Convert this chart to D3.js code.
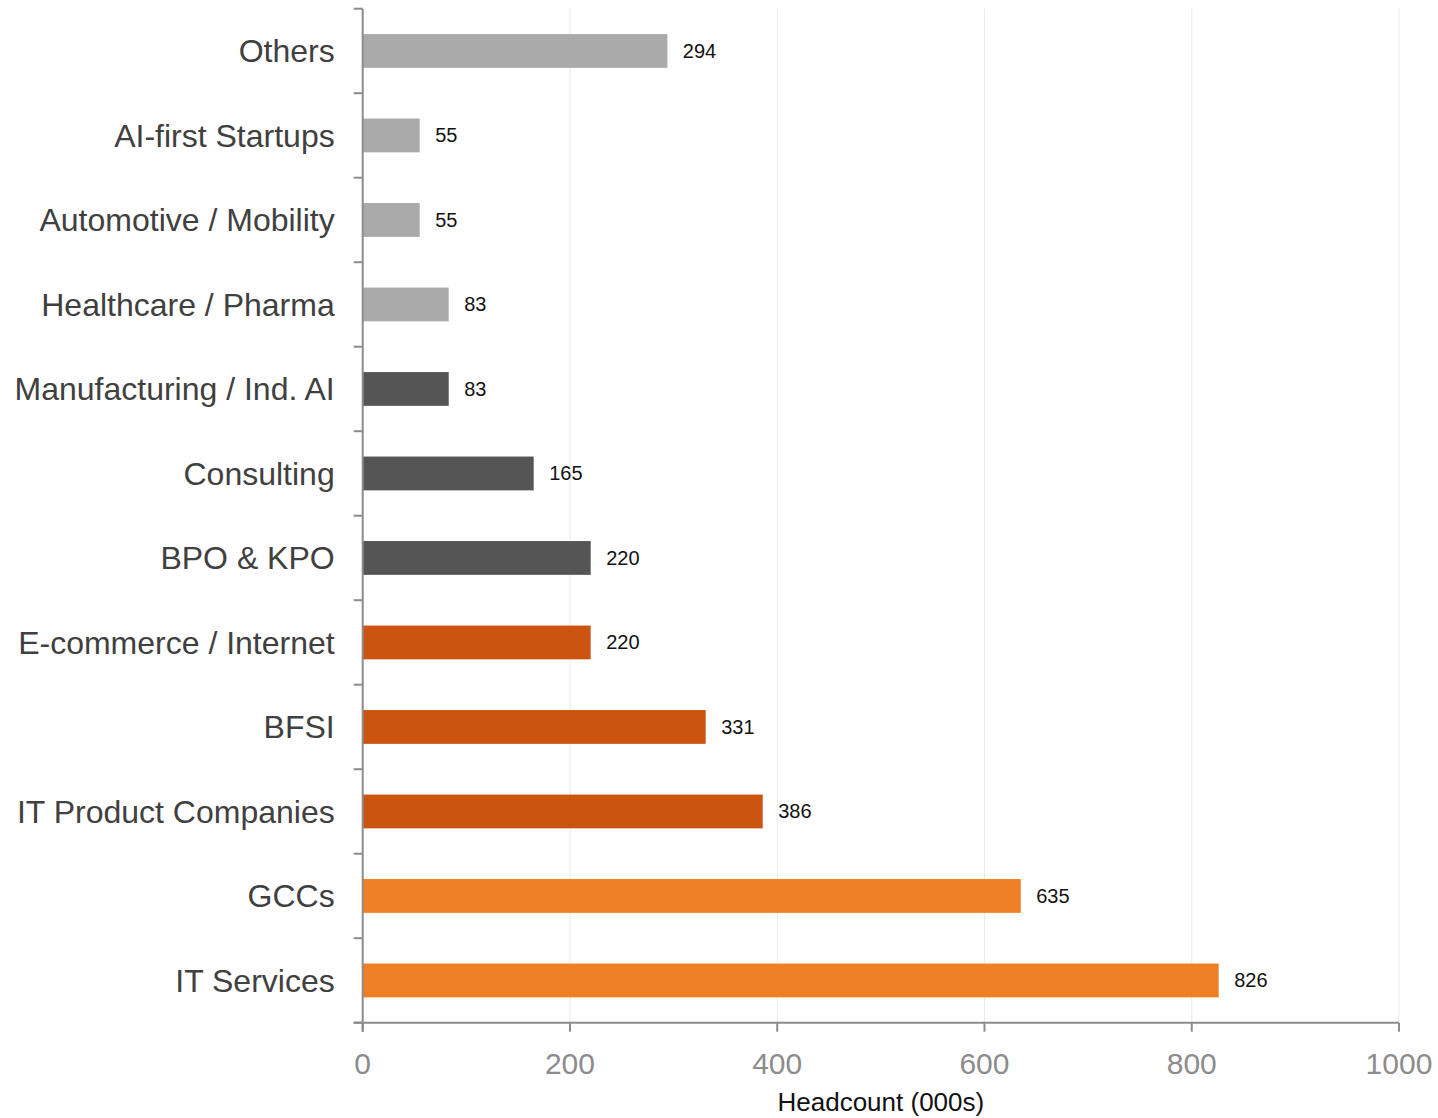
<!DOCTYPE html>
<html>
<head>
<meta charset="utf-8">
<script src="https://cdn.jsdelivr.net/npm/d3@7"></script>
<style>
  html, body { margin: 0; padding: 0; background: #fff; }
  svg { display: block; font-family: "Liberation Sans", Arial, sans-serif; }
</style>
</head>
<body>
<svg id="chart" width="1438" height="1118"></svg>
<script>
// Sectors, top to bottom
const categories = [
  "Others", "AI-first Startups", "Automotive / Mobility", "Healthcare / Pharma",
  "Manufacturing / Ind. AI", "Consulting", "BPO & KPO", "E-commerce / Internet",
  "BFSI", "IT Product Companies", "GCCs", "IT Services"
];
// Headcount in thousands
const headcount = [294, 55, 55, 83, 83, 165, 220, 220, 331, 386, 635, 826];
// Colour group per sector
const groups = [
  "other", "other", "other", "other",
  "mid", "mid", "mid",
  "core", "core", "core",
  "top", "top"
];
const groupColors = { top: "#f07e24", core: "#cb5410", mid: "#555555", other: "#aaaaaa" };
const xTicks = [0, 200, 400, 600, 800, 1000];
const xTitle = "Headcount (000s)";

const svg = d3.select("#chart");
const margin = { top: 8, left: 362.7, right: 39, bottom: 96 };
const W = 1438, H = 1118;
const plotW = W - margin.left - margin.right;
const plotH = H - margin.top - margin.bottom;

const x = d3.scaleLinear().domain([0, 1000]).range([0, plotW]);
const y = d3.scaleBand().domain(categories).range([0, plotH]).paddingInner(0.6).paddingOuter(0.3);
const band = plotH / categories.length;

const g = svg.append("g").attr("transform", `translate(${margin.left},${margin.top + 0.7})`);

// vertical gridlines
g.append("g").selectAll("line").data(xTicks.filter(d => d > 0)).join("line")
  .attr("x1", d => x(d)).attr("x2", d => x(d))
  .attr("y1", 0).attr("y2", plotH)
  .attr("stroke", "#ebebeb").attr("stroke-width", 1);

// bars
g.append("g").selectAll("rect").data(categories).join("rect")
  .attr("x", 0)
  .attr("y", d => y(d))
  .attr("height", y.bandwidth())
  .attr("width", (d, i) => x(headcount[i]))
  .attr("fill", (d, i) => groupColors[groups[i]]);

// value labels
g.append("g").selectAll("text").data(categories).join("text")
  .attr("x", (d, i) => x(headcount[i]) + 15.5)
  .attr("y", d => y(d) + y.bandwidth() / 2)
  .attr("dy", "0.35em")
  .attr("font-size", 20)
  .attr("fill", "#111")
  .text((d, i) => headcount[i]);

// category axis: ticks at band boundaries
const yAxis = g.append("g");
const boundaries = d3.range(categories.length + 1).map(i => i * band);
yAxis.selectAll("line.tick").data(boundaries).join("line")
  .attr("class", "tick")
  .attr("x1", -9).attr("x2", 0)
  .attr("y1", d => d).attr("y2", d => d)
  .attr("stroke", "#8c8c8c").attr("stroke-width", 2);
yAxis.append("line")
  .attr("x1", 0).attr("x2", 0).attr("y1", 0).attr("y2", plotH + 9)
  .attr("stroke", "#8c8c8c").attr("stroke-width", 2);
yAxis.selectAll("text").data(categories).join("text")
  .attr("x", -28)
  .attr("y", d => y(d) + y.bandwidth() / 2)
  .attr("dy", "0.35em")
  .attr("text-anchor", "end")
  .attr("font-size", 32)
  .attr("fill", "#404040")
  .text(d => d);

// value axis
const xAxis = g.append("g").attr("transform", `translate(0,${plotH})`);
xAxis.append("line")
  .attr("x1", -9).attr("x2", x(1000)).attr("y1", 0).attr("y2", 0)
  .attr("stroke", "#8c8c8c").attr("stroke-width", 2);
xAxis.selectAll("line.tick").data(xTicks).join("line")
  .attr("class", "tick")
  .attr("x1", d => x(d)).attr("x2", d => x(d))
  .attr("y1", 0).attr("y2", 9)
  .attr("stroke", "#8c8c8c").attr("stroke-width", 2);
xAxis.selectAll("text").data(xTicks).join("text")
  .attr("x", d => x(d))
  .attr("y", 51)
  .attr("text-anchor", "middle")
  .attr("font-size", 30)
  .attr("fill", "#8c8c8c")
  .text(d => d);

// axis title
g.append("text")
  .attr("x", plotW / 2)
  .attr("y", plotH + 88)
  .attr("text-anchor", "middle")
  .attr("font-size", 26)
  .attr("fill", "#111")
  .text(xTitle);
</script>
</body>
</html>
